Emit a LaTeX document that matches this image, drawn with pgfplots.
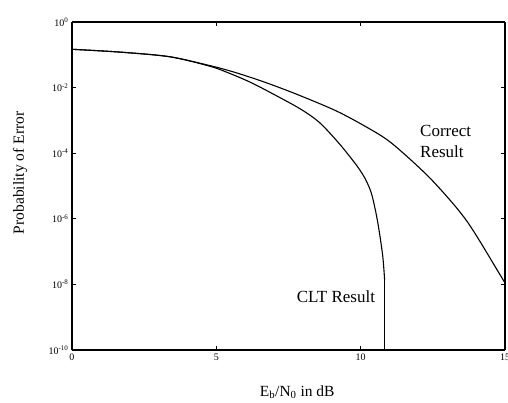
\documentclass[border=0pt]{standalone}
\usepackage{fontspec}
\setmainfont{Liberation Serif}
\usepackage{pgfplots}
\pgfplotsset{compat=1.18}
\begin{document}
\begin{tikzpicture}
\path[use as bounding box] (-72pt,-53pt) rectangle (436pt,350pt);
\begin{axis}[
  at={(0pt,0pt)}, anchor=south west,
  width=433pt, height=328pt, scale only axis,
  xmin=0, xmax=15, ymode=log, ymin=1e-10, ymax=1,
  xtick={0,5,10,15}, xticklabels={0,5,10,15},
  ytick={1e-10,1e-8,1e-6,1e-4,1e-2,1},
  yticklabels={10\textsuperscript{-10},10\textsuperscript{-8},10\textsuperscript{-6},10\textsuperscript{-4},10\textsuperscript{-2},10\textsuperscript{0}},
  yminorticks=false, xminorticks=false,
  tick align=inside, major tick length=4pt,
  every outer x axis line/.append style={line width=2.6pt},
  every outer y axis line/.append style={line width=2.6pt},
  separate axis lines,
  axis line style={black, line width=2.6pt},
  tick style={black, line width=0.8pt},
  tick label style={font=\fontsize{10}{10}\selectfont},
  xlabel={E\textsubscript{b}/N\textsubscript{0} in dB},
  ylabel={Probability of Error},
  label style={font=\fontsize{15.5}{18}\selectfont},
  xlabel style={at={(rel axis cs:0.52,-0.128)}, anchor=center},
  ylabel style={at={(rel axis cs:-0.12,0.54)}, anchor=center},
  clip=true,
]
\addplot[black, line width=1.1pt, smooth, tension=0.5] coordinates {
(0,0.1472) (1.7,0.1202) (3.39,0.0871) (4.78,0.04677) (5.47,0.03236) (6.16,0.02089)
(6.85,0.01288) (7.89,0.005754) (9.27,0.001738) (10.66,3.631e-4) (11.35,1.259e-4)
(12.49,1.445e-5) (13.67,8.71e-7) (14.81,2.09e-8) (15,1.096e-8)
};
\addplot[black, line width=1.1pt, smooth, tension=0.5] coordinates {
(0,0.1472) (1.7,0.1202) (3.39,0.0871) (4.78,0.04467) (5.47,0.02692) (6.16,0.01479)
(6.85,0.007244) (7.89,0.002291) (8.58,8.511e-4) (9.27,1.905e-4) (9.79,5.129e-5)
(9.97,3.09e-5) (10.14,1.778e-5) (10.31,8.511e-6) (10.42,4.169e-6) (10.59,7.943e-7)
(10.76,7.943e-8) (10.83,1.349e-8)
};
\addplot[black, line width=1.5pt] coordinates {(10.83,1.349e-8) (10.83,1e-10)};
\node[anchor=west, align=left, font=\fontsize{17}{21}\selectfont] at (axis cs:11.94,2.34e-4) {Correct\\Result};
\node[anchor=east, font=\fontsize{17}{21}\selectfont] at (axis cs:10.62,4.17e-9) {CLT Result};
\end{axis}
\end{tikzpicture}
\end{document}
